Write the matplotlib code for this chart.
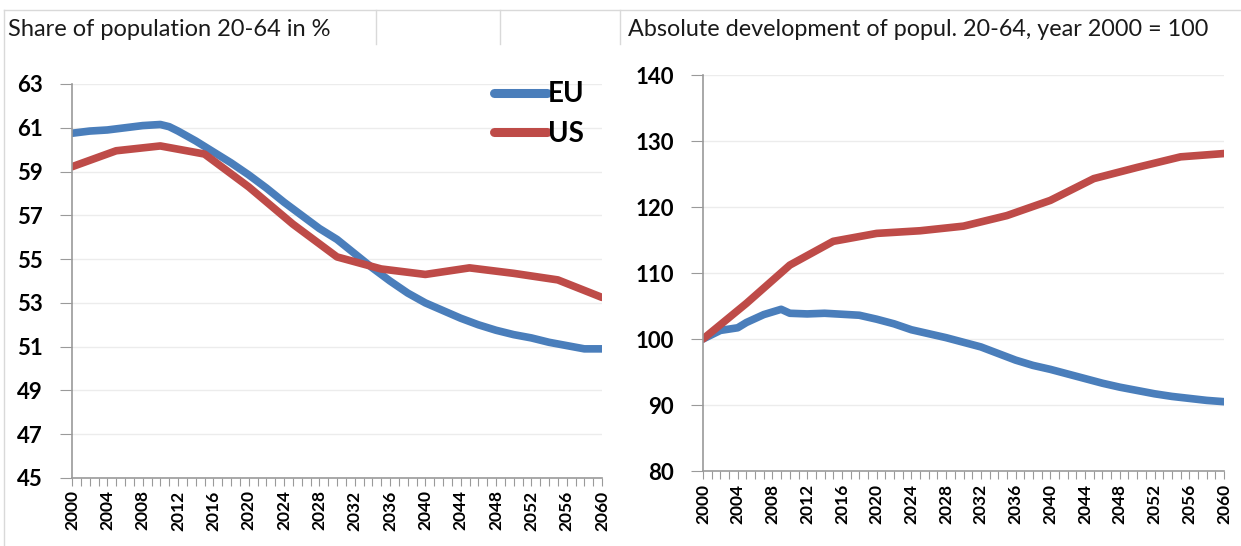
import matplotlib
matplotlib.use('Agg')
import matplotlib.pyplot as plt
from matplotlib.lines import Line2D

plt.rcParams['font.family'] = ['Lato', 'DejaVu Sans']

# share of population 20-64 in %
eu_years = [2000, 2002, 2004, 2006, 2008, 2010, 2011, 2012, 2014, 2016, 2018, 2020,
            2022, 2024, 2026, 2028, 2030, 2032, 2034, 2036, 2038, 2040, 2042, 2044,
            2046, 2048, 2050, 2052, 2054, 2056, 2058, 2060]
eu_share = [60.75, 60.85, 60.9, 61.0, 61.1, 61.15, 61.05, 60.85, 60.4, 59.9, 59.4, 58.85,
            58.25, 57.6, 57.0, 56.4, 55.9, 55.25, 54.6, 54.0, 53.45, 53.0, 52.65, 52.3,
            52.0, 51.75, 51.55, 51.4, 51.2, 51.05, 50.9, 50.9]
us_years = [2000, 2005, 2010, 2015, 2020, 2025, 2030, 2035, 2040, 2045, 2050, 2055, 2060]
us_share = [59.22, 59.95, 60.17, 59.8, 58.3, 56.6, 55.1, 54.55, 54.3, 54.6, 54.35, 54.05, 53.25]

# absolute development, 2000 = 100
eu_idx_years = [2000, 2002, 2004, 2005, 2007, 2009, 2010, 2012, 2014, 2016, 2018, 2020,
                2022, 2024, 2026, 2028, 2030, 2032, 2034, 2036, 2038, 2040, 2042, 2044,
                2046, 2048, 2050, 2052, 2054, 2056, 2058, 2060]
eu_idx = [100.0, 101.3, 101.7, 102.5, 103.7, 104.5, 103.9, 103.8, 103.9, 103.75, 103.6, 103.0,
          102.3, 101.4, 100.8, 100.2, 99.5, 98.8, 97.8, 96.8, 96.0, 95.4, 94.7, 94.0,
          93.3, 92.7, 92.2, 91.7, 91.3, 91.0, 90.7, 90.5]
us_idx_years = [2000, 2005, 2010, 2015, 2020, 2025, 2030, 2035, 2040, 2045, 2050, 2055, 2060]
us_idx = [100.0, 105.4, 111.2, 114.8, 116.0, 116.4, 117.1, 118.7, 121.0, 124.3, 126.0, 127.6, 128.1]

blue = '#4a7ebb'
red = '#be4b48'
grid_c = '#ececec'
axis_c = '#9a9a9a'

fig = plt.figure(figsize=(12.41, 5.46), dpi=100)

# sheet cell borders around the titles
fig.add_artist(Line2D([0.003, 1.0], [0.982, 0.982], color='#d9d9d9', lw=1))
for xp, y0 in [(0.003, 0.0), (0.303, 0.92), (0.403, 0.92), (0.4996, 0.92)]:
    fig.add_artist(Line2D([xp, xp], [y0, 0.982], color='#d9d9d9', lw=1))

fig.text(8 / 1241, 1 - 30 / 546, 'Share of population 20-64 in %', fontsize=17,
         va='center', ha='left', color='#1a1a1a')
fig.text(628 / 1241, 1 - 30 / 546, 'Absolute development of popul. 20-64, year 2000 = 100',
         fontsize=16.8, va='center', ha='left', color='#1a1a1a')

ax = fig.add_axes([72 / 1241, 1 - 478 / 546, 530 / 1241, 394 / 546])
ax2 = fig.add_axes([703 / 1241, 1 - 471 / 546, 521 / 1241, 396 / 546])

ax.plot(eu_years, eu_share, color=blue, lw=5.5, solid_capstyle='round', label='EU')
ax.plot(us_years, us_share, color=red, lw=5.5, solid_capstyle='round', label='US')
ax2.plot(eu_idx_years, eu_idx, color=blue, lw=5.5, solid_capstyle='round')
ax2.plot(us_idx_years, us_idx, color=red, lw=5.5, solid_capstyle='round')

ax.set_ylim(45, 63)
ax.set_yticks(range(45, 64, 2))
ax2.set_ylim(80, 140)
ax2.set_yticks(range(80, 141, 10))

years = list(range(2000, 2061))
labels = [str(y) if (y - 2000) % 4 == 0 else '' for y in years]
for a in (ax, ax2):
    a.set_xlim(2000, 2060)
    a.set_xticks(years)
    a.set_xticklabels(labels, rotation=90, fontsize=12.5, fontweight='bold')
    for t in a.get_yticklabels():
        t.set_fontsize(16)
        t.set_fontweight('bold')
    a.tick_params(axis='x', length=6, color=axis_c, pad=3)
    a.tick_params(axis='y', length=9, color=axis_c, pad=12)
    a.grid(axis='y', color=grid_c, lw=1)
    a.set_axisbelow(True)
    for s in ('top', 'right'):
        a.spines[s].set_visible(False)
    for s in ('left', 'bottom'):
        a.spines[s].set_color(axis_c)
        a.spines[s].set_linewidth(1.2)

leg = ax.legend(loc='upper left', bbox_to_anchor=(0.775, 1.035), frameon=False,
                prop={'size': 20, 'weight': 'bold'}, handlelength=1.9,
                handletextpad=0.05, labelspacing=0.5, borderaxespad=0)
for h in leg.get_lines():
    h.set_linewidth(6.5)

fig.savefig('out.png', dpi=100)
